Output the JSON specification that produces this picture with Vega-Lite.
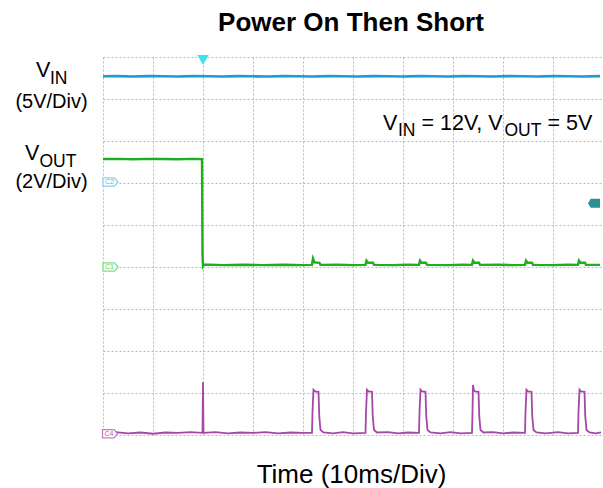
{
  "$schema": "https://vega.github.io/schema/vega-lite/v6.json",
  "width": 500,
  "height": 378,
  "autosize": {"type": "none"},
  "padding": {"left": 103, "top": 57, "right": 0, "bottom": 53},
  "background": "white",
  "config": {"view": {"stroke": null}, "font": "Liberation Sans"},
  "datasets": {
    "traces": [
      {"ch": "VIN", "t": 0, "v": 8.54}, {"ch": "VIN", "t": 0.3, "v": 8.545}, {"ch": "VIN", "t": 0.6, "v": 8.535}, {"ch": "VIN", "t": 0.9, "v": 8.545},
      {"ch": "VIN", "t": 1.2, "v": 8.54}, {"ch": "VIN", "t": 1.5, "v": 8.535}, {"ch": "VIN", "t": 1.8, "v": 8.545}, {"ch": "VIN", "t": 2.1, "v": 8.54},
      {"ch": "VIN", "t": 2.4, "v": 8.535}, {"ch": "VIN", "t": 2.7, "v": 8.545}, {"ch": "VIN", "t": 3.0, "v": 8.54}, {"ch": "VIN", "t": 3.3, "v": 8.535},
      {"ch": "VIN", "t": 3.6, "v": 8.545}, {"ch": "VIN", "t": 3.9, "v": 8.54}, {"ch": "VIN", "t": 4.2, "v": 8.535}, {"ch": "VIN", "t": 4.5, "v": 8.545},
      {"ch": "VIN", "t": 4.8, "v": 8.54}, {"ch": "VIN", "t": 5.1, "v": 8.535}, {"ch": "VIN", "t": 5.4, "v": 8.545}, {"ch": "VIN", "t": 5.7, "v": 8.54},
      {"ch": "VIN", "t": 6.0, "v": 8.535}, {"ch": "VIN", "t": 6.3, "v": 8.545}, {"ch": "VIN", "t": 6.6, "v": 8.54}, {"ch": "VIN", "t": 6.9, "v": 8.535},
      {"ch": "VIN", "t": 7.2, "v": 8.545}, {"ch": "VIN", "t": 7.5, "v": 8.54}, {"ch": "VIN", "t": 7.8, "v": 8.535}, {"ch": "VIN", "t": 8.1, "v": 8.545},
      {"ch": "VIN", "t": 8.4, "v": 8.54}, {"ch": "VIN", "t": 8.7, "v": 8.535}, {"ch": "VIN", "t": 9.0, "v": 8.545}, {"ch": "VIN", "t": 9.3, "v": 8.54},
      {"ch": "VIN", "t": 9.6, "v": 8.535}, {"ch": "VIN", "t": 9.94, "v": 8.545},

      {"ch": "VOUT", "t": 0, "v": 6.57}, {"ch": "VOUT", "t": 0.3, "v": 6.575}, {"ch": "VOUT", "t": 0.6, "v": 6.565}, {"ch": "VOUT", "t": 0.9, "v": 6.575},
      {"ch": "VOUT", "t": 1.2, "v": 6.57}, {"ch": "VOUT", "t": 1.5, "v": 6.565}, {"ch": "VOUT", "t": 1.8, "v": 6.575}, {"ch": "VOUT", "t": 1.98, "v": 6.57},
      {"ch": "VOUT", "t": 1.99, "v": 4.3}, {"ch": "VOUT", "t": 2.0, "v": 4.02}, {"ch": "VOUT", "t": 2.02, "v": 4.06}, {"ch": "VOUT", "t": 2.4, "v": 4.045},
      {"ch": "VOUT", "t": 2.8, "v": 4.055}, {"ch": "VOUT", "t": 3.2, "v": 4.045}, {"ch": "VOUT", "t": 3.6, "v": 4.055}, {"ch": "VOUT", "t": 4.0, "v": 4.045},
      {"ch": "VOUT", "t": 4.18, "v": 4.05}, {"ch": "VOUT", "t": 4.2, "v": 4.2}, {"ch": "VOUT", "t": 4.23, "v": 4.11}, {"ch": "VOUT", "t": 4.33, "v": 4.1},
      {"ch": "VOUT", "t": 4.35, "v": 4.05}, {"ch": "VOUT", "t": 4.7, "v": 4.055}, {"ch": "VOUT", "t": 5.0, "v": 4.045}, {"ch": "VOUT", "t": 5.25, "v": 4.05},
      {"ch": "VOUT", "t": 5.27, "v": 4.15}, {"ch": "VOUT", "t": 5.3, "v": 4.1}, {"ch": "VOUT", "t": 5.4, "v": 4.1}, {"ch": "VOUT", "t": 5.42, "v": 4.05},
      {"ch": "VOUT", "t": 5.8, "v": 4.045}, {"ch": "VOUT", "t": 6.1, "v": 4.055}, {"ch": "VOUT", "t": 6.32, "v": 4.05}, {"ch": "VOUT", "t": 6.34, "v": 4.15},
      {"ch": "VOUT", "t": 6.37, "v": 4.1}, {"ch": "VOUT", "t": 6.46, "v": 4.1}, {"ch": "VOUT", "t": 6.48, "v": 4.05}, {"ch": "VOUT", "t": 6.9, "v": 4.045},
      {"ch": "VOUT", "t": 7.2, "v": 4.055}, {"ch": "VOUT", "t": 7.38, "v": 4.05}, {"ch": "VOUT", "t": 7.4, "v": 4.15}, {"ch": "VOUT", "t": 7.43, "v": 4.1},
      {"ch": "VOUT", "t": 7.52, "v": 4.1}, {"ch": "VOUT", "t": 7.54, "v": 4.05}, {"ch": "VOUT", "t": 7.9, "v": 4.055}, {"ch": "VOUT", "t": 8.2, "v": 4.045},
      {"ch": "VOUT", "t": 8.44, "v": 4.05}, {"ch": "VOUT", "t": 8.46, "v": 4.15}, {"ch": "VOUT", "t": 8.49, "v": 4.1}, {"ch": "VOUT", "t": 8.58, "v": 4.1},
      {"ch": "VOUT", "t": 8.6, "v": 4.05}, {"ch": "VOUT", "t": 9.0, "v": 4.045}, {"ch": "VOUT", "t": 9.3, "v": 4.055}, {"ch": "VOUT", "t": 9.5, "v": 4.05},
      {"ch": "VOUT", "t": 9.52, "v": 4.15}, {"ch": "VOUT", "t": 9.55, "v": 4.1}, {"ch": "VOUT", "t": 9.64, "v": 4.1}, {"ch": "VOUT", "t": 9.66, "v": 4.05},
      {"ch": "VOUT", "t": 9.94, "v": 4.05},

      {"ch": "IL", "t": 0, "v": 0.05}, {"ch": "IL", "t": 0.25, "v": 0.07}, {"ch": "IL", "t": 0.5, "v": 0.04}, {"ch": "IL", "t": 0.75, "v": 0.06},
      {"ch": "IL", "t": 1.0, "v": 0.03}, {"ch": "IL", "t": 1.25, "v": 0.06}, {"ch": "IL", "t": 1.5, "v": 0.05}, {"ch": "IL", "t": 1.75, "v": 0.07},
      {"ch": "IL", "t": 1.99, "v": 0.05}, {"ch": "IL", "t": 2.0, "v": 1.26}, {"ch": "IL", "t": 2.01, "v": 0.05}, {"ch": "IL", "t": 2.25, "v": 0.07},
      {"ch": "IL", "t": 2.5, "v": 0.04}, {"ch": "IL", "t": 2.75, "v": 0.06}, {"ch": "IL", "t": 3.0, "v": 0.05}, {"ch": "IL", "t": 3.25, "v": 0.07},
      {"ch": "IL", "t": 3.5, "v": 0.04}, {"ch": "IL", "t": 3.75, "v": 0.06}, {"ch": "IL", "t": 4.0, "v": 0.05}, {"ch": "IL", "t": 4.18, "v": 0.05},
      {"ch": "IL", "t": 4.19, "v": 0.55}, {"ch": "IL", "t": 4.21, "v": 1.08}, {"ch": "IL", "t": 4.24, "v": 1.04}, {"ch": "IL", "t": 4.31, "v": 1.03},
      {"ch": "IL", "t": 4.325, "v": 0.45}, {"ch": "IL", "t": 4.35, "v": 0.12}, {"ch": "IL", "t": 4.41, "v": 0.06}, {"ch": "IL", "t": 4.6, "v": 0.04},
      {"ch": "IL", "t": 4.8, "v": 0.07}, {"ch": "IL", "t": 5.0, "v": 0.04}, {"ch": "IL", "t": 5.25, "v": 0.05},
      {"ch": "IL", "t": 5.26, "v": 0.55}, {"ch": "IL", "t": 5.28, "v": 1.08}, {"ch": "IL", "t": 5.31, "v": 1.04}, {"ch": "IL", "t": 5.38, "v": 1.03},
      {"ch": "IL", "t": 5.395, "v": 0.45}, {"ch": "IL", "t": 5.42, "v": 0.12}, {"ch": "IL", "t": 5.48, "v": 0.06}, {"ch": "IL", "t": 5.7, "v": 0.07},
      {"ch": "IL", "t": 5.9, "v": 0.04}, {"ch": "IL", "t": 6.1, "v": 0.06}, {"ch": "IL", "t": 6.32, "v": 0.05},
      {"ch": "IL", "t": 6.33, "v": 0.55}, {"ch": "IL", "t": 6.35, "v": 1.08}, {"ch": "IL", "t": 6.38, "v": 1.04}, {"ch": "IL", "t": 6.45, "v": 1.03},
      {"ch": "IL", "t": 6.465, "v": 0.45}, {"ch": "IL", "t": 6.49, "v": 0.12}, {"ch": "IL", "t": 6.55, "v": 0.06}, {"ch": "IL", "t": 6.75, "v": 0.04},
      {"ch": "IL", "t": 6.95, "v": 0.07}, {"ch": "IL", "t": 7.15, "v": 0.04}, {"ch": "IL", "t": 7.38, "v": 0.05},
      {"ch": "IL", "t": 7.39, "v": 0.55}, {"ch": "IL", "t": 7.4, "v": 1.19}, {"ch": "IL", "t": 7.42, "v": 1.06}, {"ch": "IL", "t": 7.44, "v": 1.04},
      {"ch": "IL", "t": 7.51, "v": 1.03}, {"ch": "IL", "t": 7.525, "v": 0.45}, {"ch": "IL", "t": 7.55, "v": 0.12}, {"ch": "IL", "t": 7.61, "v": 0.06},
      {"ch": "IL", "t": 7.8, "v": 0.07}, {"ch": "IL", "t": 8.0, "v": 0.04}, {"ch": "IL", "t": 8.2, "v": 0.06}, {"ch": "IL", "t": 8.44, "v": 0.05},
      {"ch": "IL", "t": 8.45, "v": 0.55}, {"ch": "IL", "t": 8.47, "v": 1.08}, {"ch": "IL", "t": 8.5, "v": 1.04}, {"ch": "IL", "t": 8.57, "v": 1.03},
      {"ch": "IL", "t": 8.585, "v": 0.45}, {"ch": "IL", "t": 8.61, "v": 0.12}, {"ch": "IL", "t": 8.67, "v": 0.06}, {"ch": "IL", "t": 8.85, "v": 0.04},
      {"ch": "IL", "t": 9.1, "v": 0.07}, {"ch": "IL", "t": 9.3, "v": 0.04}, {"ch": "IL", "t": 9.5, "v": 0.05},
      {"ch": "IL", "t": 9.51, "v": 0.55}, {"ch": "IL", "t": 9.53, "v": 1.08}, {"ch": "IL", "t": 9.56, "v": 1.04}, {"ch": "IL", "t": 9.63, "v": 1.03},
      {"ch": "IL", "t": 9.645, "v": 0.45}, {"ch": "IL", "t": 9.67, "v": 0.12}, {"ch": "IL", "t": 9.73, "v": 0.06}, {"ch": "IL", "t": 9.85, "v": 0.04},
      {"ch": "IL", "t": 9.96, "v": 0.06}
    ],
    "markers": [
      {"ch": "C2", "t": 0.15, "v": 6.024},
      {"ch": "C1", "t": 0.15, "v": 4.0},
      {"ch": "C4", "t": 0.14, "v": 0.03}
    ],
    "trig": [{"t": 2.0, "v": 8.93}],
    "tmark": [{"t": 9.82, "v": 5.52}],
    "titleText": [{"t": 4.96, "v": 9.62, "txt": "Power On Then Short"}],
    "mainText": [
      {"t": -1.34, "v": 8.524, "txt": "V"},
      {"t": -1.56, "v": 6.55, "txt": "V"},
      {"t": 5.6, "v": 7.262, "txt": "V"},
      {"t": 6.37, "v": 7.262, "txt": "= 12V, V"},
      {"t": 8.89, "v": 7.262, "txt": "= 5V"}
    ],
    "subText": [
      {"t": -1.06, "v": 8.357, "txt": "IN"},
      {"t": -1.27, "v": 6.39, "txt": "OUT"},
      {"t": 5.9, "v": 7.12, "txt": "IN"},
      {"t": 8.03, "v": 7.12, "txt": "OUT"}
    ],
    "divText": [
      {"t": -1.03, "v": 7.786, "txt": "(5V/Div)"},
      {"t": -1.03, "v": 5.88, "txt": "(2V/Div)"}
    ]
  },
  "encoding": {
    "x": {
      "field": "t", "type": "quantitative",
      "scale": {"domain": [0, 10], "nice": false, "zero": false},
      "axis": {
        "values": [0, 1, 2, 3, 4, 5, 6, 7, 8, 9, 10],
        "grid": true, "gridDash": [2, 2], "gridColor": "#b8b8b8", "gridWidth": 1,
        "labels": false, "ticks": false, "domain": false,
        "title": "Time (10ms/Div)", "titleFontSize": 26, "titleFont": "Liberation Sans",
        "titleFontWeight": "normal", "titleColor": "black", "titleBaseline": "alphabetic", "titleY": 47, "titleX": 248
      }
    },
    "y": {
      "field": "v", "type": "quantitative",
      "scale": {"domain": [0, 9], "nice": false, "zero": false},
      "axis": {
        "values": [0, 1, 2, 3, 4, 5, 6, 7, 8, 9],
        "grid": true, "gridDash": [2, 2], "gridColor": "#b8b8b8", "gridWidth": 1,
        "labels": false, "ticks": false, "domain": false, "title": null
      }
    }
  },
  "layer": [
    {
      "data": {"name": "traces"},
      "transform": [{"filter": "datum.ch === 'VIN'"}],
      "mark": {"type": "line", "color": "#1a9ad6", "strokeWidth": 2.6}
    },
    {
      "data": {"name": "traces"},
      "transform": [{"filter": "datum.ch === 'VOUT'"}],
      "mark": {"type": "line", "color": "#1eae1e", "strokeWidth": 2.4}
    },
    {
      "data": {"name": "traces"},
      "transform": [{"filter": "datum.ch === 'IL'"}],
      "mark": {"type": "line", "color": "#a548a5", "strokeWidth": 1.8}
    },
    {
      "data": {"name": "markers"},
      "mark": {"type": "point", "shape": "M-1,-0.55L0.55,-0.55L1,0L0.55,0.55L-1,0.55Z", "size": 225, "filled": false, "fill": "white", "fillOpacity": 1, "strokeWidth": 1.3, "opacity": 1},
      "encoding": {
        "stroke": {"field": "ch", "type": "nominal", "scale": {"domain": ["C1", "C2", "C4"], "range": ["#7fdc7f", "#86cff2", "#c77cc7"]}, "legend": null}
      }
    },
    {
      "data": {"name": "markers"},
      "mark": {"type": "text", "fontSize": 7, "align": "center", "baseline": "middle", "dx": -1},
      "encoding": {
        "text": {"field": "ch"},
        "color": {"field": "ch", "type": "nominal", "scale": {"domain": ["C1", "C2", "C4"], "range": ["#5cc85c", "#5cb8e6", "#b45eb4"]}, "legend": null}
      }
    },
    {
      "data": {"name": "trig"},
      "mark": {"type": "point", "shape": "triangle-down", "size": 130, "filled": true, "color": "#3ee4ec", "opacity": 1}
    },
    {
      "data": {"name": "tmark"},
      "mark": {"type": "point", "shape": "M-1,0L-0.55,-0.75L1,-0.75L1,0.75L-0.55,0.75Z", "size": 144, "filled": true, "color": "#2b8f96", "opacity": 1}
    },
    {
      "data": {"name": "titleText"},
      "mark": {"type": "text", "fontSize": 26, "font": "Liberation Sans", "fontWeight": "bold", "align": "center", "baseline": "alphabetic", "color": "black"},
      "encoding": {"text": {"field": "txt"}}
    },
    {
      "data": {"name": "mainText"},
      "mark": {"type": "text", "fontSize": 21.5, "font": "Liberation Sans", "align": "left", "baseline": "alphabetic", "color": "black"},
      "encoding": {"text": {"field": "txt"}}
    },
    {
      "data": {"name": "subText"},
      "mark": {"type": "text", "fontSize": 17.5, "font": "Liberation Sans", "align": "left", "baseline": "alphabetic", "color": "black"},
      "encoding": {"text": {"field": "txt"}}
    },
    {
      "data": {"name": "divText"},
      "mark": {"type": "text", "fontSize": 20, "font": "Liberation Sans", "align": "center", "baseline": "alphabetic", "color": "black"},
      "encoding": {"text": {"field": "txt"}}
    }
  ]
}
